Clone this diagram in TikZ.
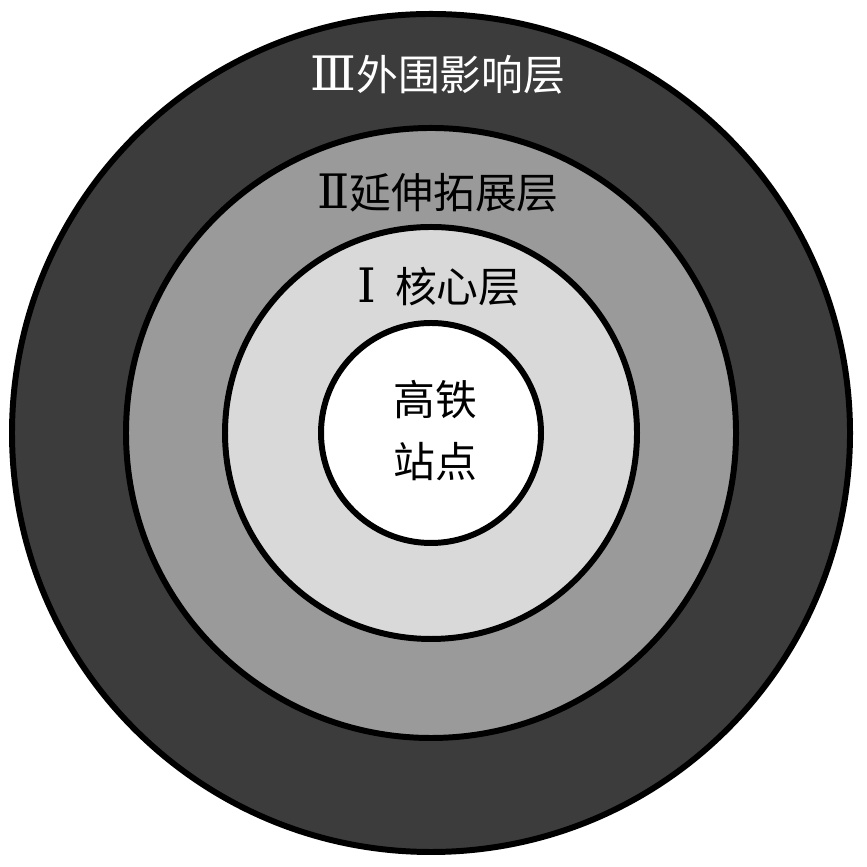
\documentclass[tikz,border=0pt]{standalone}
\usepackage{fontspec}
\newfontfamily\cjk{Noto Sans CJK SC}
\newfontfamily\numfont{DejaVu Serif}
\definecolor{ringdark}{HTML}{3C3C3C}
\definecolor{ringmid}{HTML}{9A9A9A}
\definecolor{ringlight}{HTML}{D9D9D9}
\tikzset{
  ring/.style={draw=black, line width=1.7pt},
  layertext/.style={font=\cjk\fontsize{11.9pt}{14pt}\selectfont, inner sep=0pt}
}
\newcommand{\layernum}[1]{{\numfont\fontsize{13.5pt}{14pt}\selectfont #1}}
\begin{document}
\begin{tikzpicture}
\useasboundingbox (0,0) rectangle (8.66,8.67);
%\draw[step=0.5cm,gray,very thin] (0,0) grid (8.66,8.67); %background grid
\coordinate (c) at (4.31,4.34);
\filldraw[ring, fill=ringdark] (c) circle (4.19cm);
\filldraw[ring, fill=ringmid] (c) circle (3.05cm);
\filldraw[ring, fill=ringlight] (c) circle (2.06cm);
\filldraw[ring, fill=white] (c) circle (1.10cm);
\node[layertext, text=white] (outer) at (4.38,7.92) {\layernum{Ⅲ}外围影响层};
\node[layertext] (extend) at (4.38,6.74) {\layernum{Ⅱ}延伸拓展层};
\node[layertext] (core) at (4.39,5.80) {\layernum{Ⅰ}\hspace{0.45em}核心层};
\node[layertext] (station1) at (4.35,4.67) {高铁};
\node[layertext] (station2) at (4.35,4.05) {站点};
\end{tikzpicture}
\end{document}
